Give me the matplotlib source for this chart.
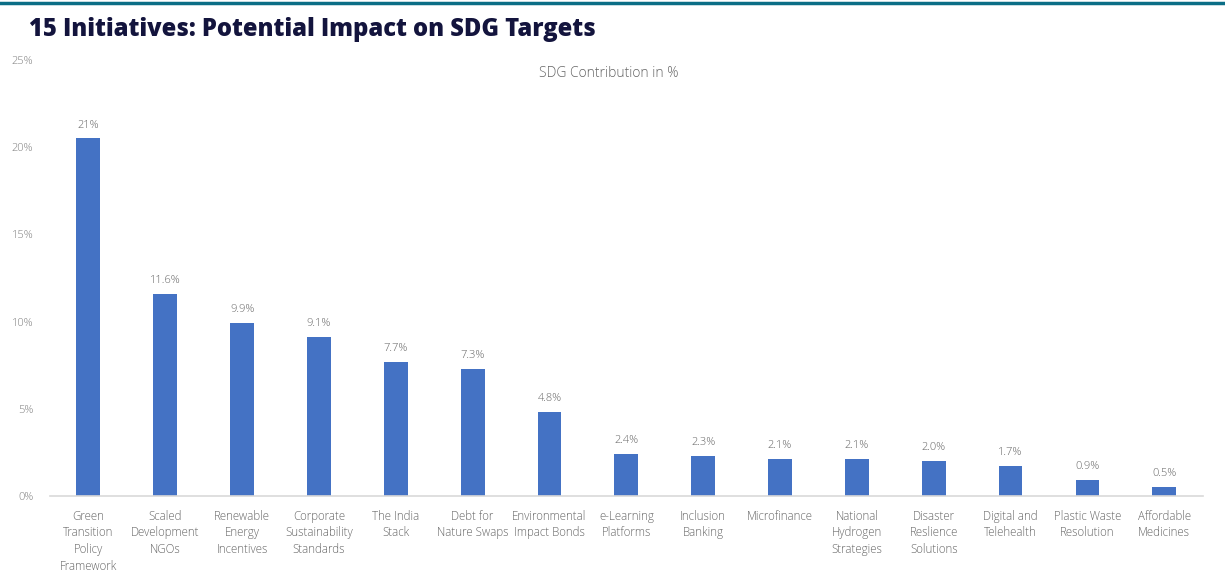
import matplotlib.pyplot as plt
from matplotlib.lines import Line2D

categories = [
    "Green\nTransition\nPolicy\nFramework",
    "Scaled\nDevelopment\nNGOs",
    "Renewable\nEnergy\nIncentives",
    "Corporate\nSustainability\nStandards",
    "The India\nStack",
    "Debt for\nNature Swaps",
    "Environmental\nImpact Bonds",
    "e-Learning\nPlatforms",
    "Inclusion\nBanking",
    "Microfinance",
    "National\nHydrogen\nStrategies",
    "Disaster\nReslience\nSolutions",
    "Digital and\nTelehealth",
    "Plastic Waste\nResolution",
    "Affordable\nMedicines",
]
values = [20.5, 11.6, 9.9, 9.1, 7.7, 7.3, 4.8, 2.4, 2.3, 2.1, 2.1, 2.0, 1.7, 0.9, 0.5]
labels = ["21%", "11.6%", "9.9%", "9.1%", "7.7%", "7.3%", "4.8%", "2.4%",
          "2.3%", "2.1%", "2.1%", "2.0%", "1.7%", "0.9%", "0.5%"]
yticks = [0, 5, 10, 15, 20, 25]

plt.rcParams['font.family'] = ['Open Sans', 'DejaVu Sans']

fig = plt.figure(figsize=(12.25, 5.76), dpi=100)
ax = fig.add_axes([0.0408, 0.139, 0.941, 0.757])

x = range(len(categories))
bars = ax.bar(x, values, width=0.31, color="#4472C4")
for b, lab in zip(bars, labels):
    ax.text(b.get_x() + b.get_width() / 2, b.get_height() + 0.45, lab,
            ha="center", va="bottom", fontsize=8, color="#666666", fontweight=300)

ax.set_xlim(-0.5, len(categories) - 0.5)
ax.set_ylim(0, 25)
ax.set_yticks(yticks)
ax.set_yticklabels([f"{t}%" for t in yticks], fontsize=8, color="#808080", fontweight=300)
ax.set_xticks(list(x))
ax.set_xticklabels(categories, fontsize=8.3, color="#666666", linespacing=1.36,
                   fontweight=300)
ax.tick_params(axis="both", length=0)
ax.tick_params(axis="y", pad=12)
ax.tick_params(axis="x", pad=10)
for s in ["top", "right", "left"]:
    ax.spines[s].set_visible(False)
ax.spines["bottom"].set_color("#d9d9d9")
ax.spines["bottom"].set_linewidth(1.2)

fig.text(0.497, 0.872, "SDG Contribution in %", ha="center", va="center",
         fontsize=10, color="#666666", fontweight=300)

fig.text(0.024, 0.948, "15 Initiatives: Potential Impact on SDG Targets",
         fontsize=17.1, fontweight=800, color="#13143d", va="center")
fig.add_artist(Line2D([0, 1], [0.9955, 0.9955], transform=fig.transFigure,
                      color="#0b6e86", linewidth=2.5))

fig.savefig("out.png", dpi=100)
